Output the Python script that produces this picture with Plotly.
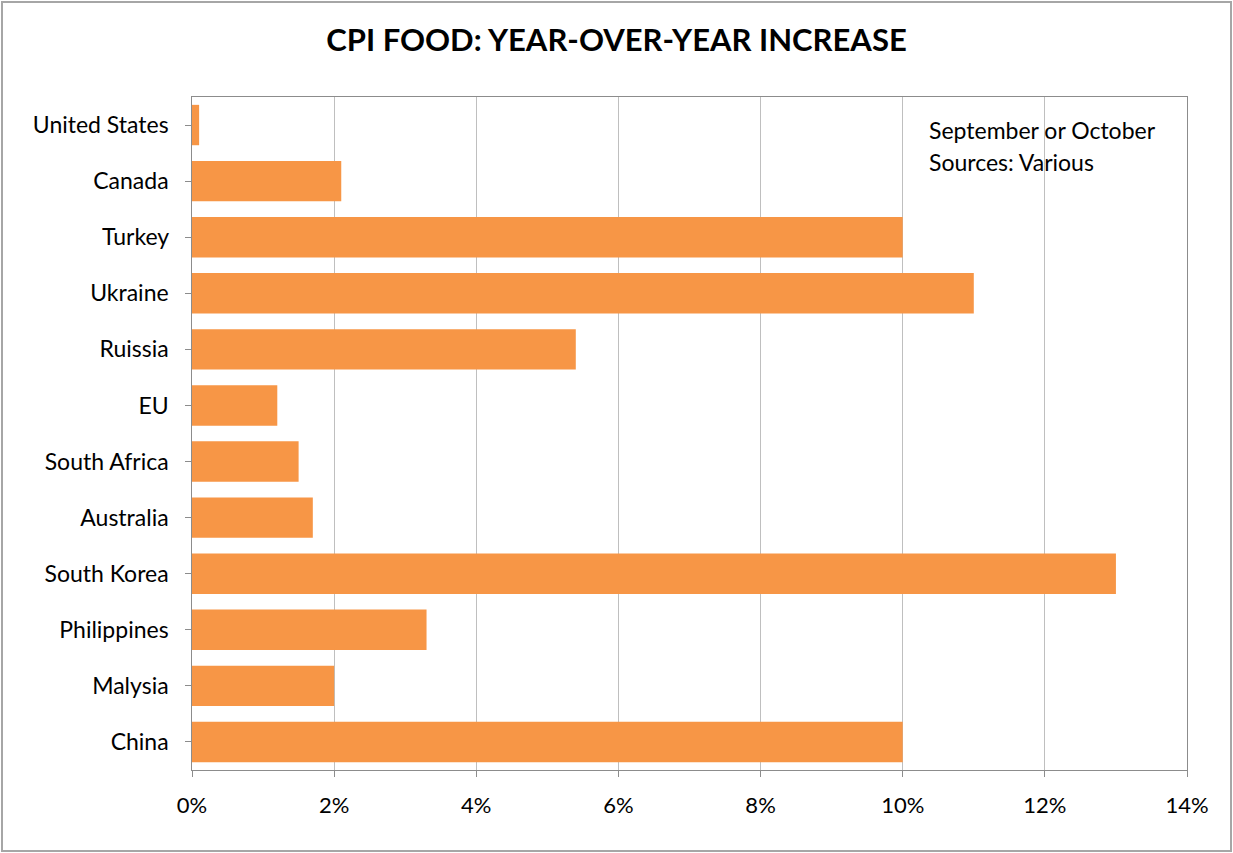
import plotly.graph_objects as go

countries = ["United States", "Canada", "Turkey", "Ukraine", "Ruissia", "EU",
             "South Africa", "Australia", "South Korea", "Philippines", "Malysia", "China"]
values = [0.1, 2.1, 10.0, 11.0, 5.4, 1.2, 1.5, 1.7, 13.0, 3.3, 2.0, 10.0]
tick_vals = [0, 2, 4, 6, 8, 10, 12, 14]
tick_text = ["0%", "2%", "4%", "6%", "8%", "10%", "12%", "14%"]
note_lines = ["September or October", "Sources: Various"]

FONT = "Lato, Open Sans, sans-serif"

fig = go.Figure(go.Bar(
    x=values, y=countries, orientation="h",
    marker=dict(color="#F79646", line=dict(width=0)),
    width=0.72,
))

fig.update_layout(
    width=1233, height=853,
    paper_bgcolor="white", plot_bgcolor="white",
    margin=dict(l=192, r=46, t=97, b=83),
    font=dict(family=FONT, color="black"),
    title=dict(text="<b>CPI FOOD: YEAR-OVER-YEAR INCREASE</b>",
               x=0.5, xanchor="center", y=0.953, yanchor="middle",
               font=dict(size=31, family=FONT, color="black")),
    showlegend=False,
)
fig.update_xaxes(range=[0, 14], tickvals=tick_vals, ticktext=tick_text,
                 showgrid=True, gridcolor="#BFBFBF", gridwidth=1,
                 showline=True, linecolor="#8C8C8C", mirror=True,
                 ticks="outside", ticklen=6, tickcolor="#8C8C8C",
                 ticklabelstandoff=10,
                 tickfont=dict(size=22, family=FONT), zeroline=False)
fig.update_yaxes(categoryorder="array", categoryarray=countries,
                 autorange="reversed",
                 showline=True, linecolor="#8C8C8C", mirror=True,
                 ticks="outside", ticklen=6, tickcolor="#8C8C8C",
                 tickfont=dict(size=23, family=FONT), ticksuffix="  ")

for i, line in enumerate(note_lines):
    fig.add_annotation(text=line, xref="paper", yref="paper",
                       x=0.739, y=0.951 - i * 0.0475,
                       xanchor="left", yanchor="middle", align="left",
                       showarrow=False, font=dict(size=23, family=FONT, color="black"))

fig.add_shape(type="rect", xref="paper", yref="paper",
              x0=-190/995, x1=1 + 44/995, y0=-81/673, y1=1 + 95/673,
              line=dict(color="#A6A6A6", width=2))

fig.write_html("out.html", config={"displayModeBar": False},
               post_script="document.body.style.margin='0';document.body.style.overflow='hidden';")
